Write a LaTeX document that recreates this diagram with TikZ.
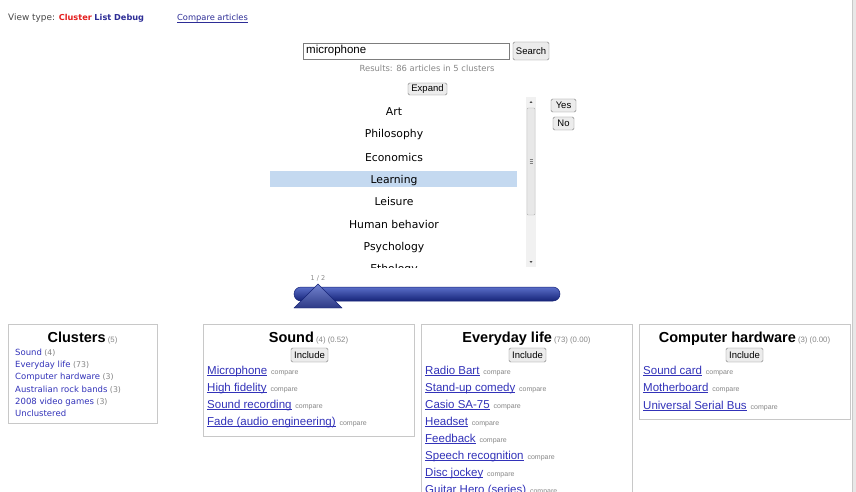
\documentclass[tikz,border=0pt]{standalone}
\usepackage{fontspec}
\setmainfont{Liberation Sans}
\newfontfamily\tah{DejaVu Sans}
\usetikzlibrary{shapes.geometric}

\definecolor{linkblue}{RGB}{50,50,185}
\definecolor{navblue}{RGB}{45,45,150}
\definecolor{hotred}{RGB}{228,30,30}
\definecolor{labelgray}{RGB}{70,70,70}
\definecolor{boxline}{RGB}{200,200,200}
\definecolor{btnline}{RGB}{125,125,125}
\definecolor{btnfill}{RGB}{236,236,236}
\definecolor{softgray}{RGB}{135,135,135}
\definecolor{selblue}{RGB}{196,217,240}
\definecolor{barlight}{RGB}{90,110,200}
\definecolor{bardark}{RGB}{22,36,120}
\definecolor{trackgray}{RGB}{232,232,232}

% underlined link text with the rule at a fixed depth
\newcommand{\lnk}[1]{\setbox0\hbox{#1}\rlap{\rule[-1.5pt]{\wd0}{0.6pt}}\box0}
\newcommand{\cmp}{{\fontsize{7}{8}\selectfont\color{softgray}\ \ compare}}
\newcommand{\cnt}[1]{{\fontsize{7.8}{8}\selectfont\mdseries\color{softgray}\ #1}}

\tikzset{
  uibutton/.style={draw=btnline, fill=btnfill, rounded corners=1.5pt, inner sep=0pt,
    font=\fontsize{9.5}{10}\selectfont},
  panel/.style={draw=boxline, line width=0.8pt},
  paneltitle/.style={anchor=base, inner sep=0pt, font=\bfseries\fontsize{14.5}{16}\selectfont},
  linkitem/.style={anchor=base west, inner sep=0pt, font=\fontsize{11.5}{13}\selectfont, text=linkblue},
  clitem/.style={anchor=base west, inner sep=0pt, font=\tah\fontsize{8.5}{10}\selectfont, text=linkblue},
  listitem/.style={anchor=base, inner sep=0pt, font=\tah\fontsize{10.8}{12}\selectfont, text=black},
  smallgray/.style={anchor=base, inner sep=0pt, font=\tah\fontsize{8.4}{10}\selectfont, text=softgray},
}

\begin{document}
\begin{tikzpicture}[x=1pt,y=-1pt]
\useasboundingbox (0,0) rectangle (856,492);
\clip (0,0) rectangle (856,492);
\fill[white] (0,0) rectangle (856,492);

% page scrollbar at the right edge
\fill[trackgray] (852,0) rectangle (856,492);
\draw[boxline] (852,0) -- (852,492);

% header line
\node[anchor=base west, inner sep=0pt, font=\tah\fontsize{8.9}{10}\selectfont] (viewtype) at (8,21)
  {\color{labelgray}View type: {\fontsize{8.2}{10}\selectfont\textbf{\color{hotred}Cluster} \textbf{\color{navblue}List Debug}}};
\node[anchor=base west, inner sep=0pt, font=\tah\fontsize{8.3}{10}\selectfont, text=navblue] (comparelink) at (177,21)
  {\lnk{Compare articles}};

% search field and button
\node[draw=btnline, fill=white, minimum width=206pt, minimum height=16pt, inner sep=0pt] (searchbox) at (406,51) {};
\node[anchor=west, inner sep=0pt, font=\fontsize{11.5}{13}\selectfont] (query) at (306,51) {microphone};
\node[uibutton, minimum width=36pt, minimum height=18pt] (searchbtn) at (531,51) {Search};
\node[smallgray] (results) at (427,72) {Results: 86 articles in 5 clusters};
\node[uibutton, minimum width=39pt, minimum height=12pt] (expandbtn) at (427.5,89) {Expand};

% topic list with selection and scrollbar
\begin{scope}
  \clip (270,97) rectangle (526,267);
  \fill[selblue] (270,171) rectangle (517,187);
  \node[listitem] (t1) at (394,116) {Art};
  \node[listitem] (t2) at (394,138) {Philosophy};
  \node[listitem] (t3) at (394,161) {Economics};
  \node[listitem] (t4) at (394,183) {Learning};
  \node[listitem] (t5) at (394,205) {Leisure};
  \node[listitem] (t6) at (394,228) {Human behavior};
  \node[listitem] (t7) at (394,250) {Psychology};
  \node[listitem] (t8) at (394,272) {Ethology};
\end{scope}
\fill[trackgray!60] (526,97) rectangle (536,267);
\draw[btnline!60, fill=trackgray, rounded corners=1pt] (527,108) rectangle (535,215);
\fill[black!70] (529.5,103) -- (532.5,103) -- (531,101) -- cycle;
\fill[black!70] (529.5,261) -- (532.5,261) -- (531,263) -- cycle;
\foreach \g in {159.5,161.5,163.5} \draw[black!50, line width=0.4pt] (529.5,\g) -- (532.5,\g);

\node[uibutton, minimum width=25pt, minimum height=13pt] (yesbtn) at (563.5,105.5) {Yes};
\node[uibutton, minimum width=21pt, minimum height=13pt] (nobtn) at (563.5,123.5) {No};

% page slider
\node[anchor=base, inner sep=0pt, font=\tah\fontsize{6.5}{8}\selectfont, text=softgray] (pagelbl) at (318,280) {1 / 2};
\shade[top color=barlight, bottom color=bardark, draw=bardark, rounded corners=7pt, line width=0.5pt]
  (294,287) rectangle (560,301);
\shade[top color=barlight!85, bottom color=bardark!90, draw=bardark, line width=0.4pt]
  (318,284) -- (342,308) -- (294,308) -- cycle;

% cluster index
\draw[panel] (8,324) rectangle (157,423);
\node[paneltitle] (cltitle) at (82.5,342) {Clusters\cnt{(5)}};
\node[clitem] (c1) at (15,355) {Sound\cnt{(4)}};
\node[clitem] (c2) at (15,367) {Everyday life\cnt{(73)}};
\node[clitem] (c3) at (15,379) {Computer hardware\cnt{(3)}};
\node[clitem] (c4) at (15,392) {Australian rock bands\cnt{(3)}};
\node[clitem] (c5) at (15,404) {2008 video games\cnt{(3)}};
\node[clitem] (c6) at (15,416) {Unclustered};

% cluster: Sound
\draw[panel] (203,324) rectangle (414,436);
\node[paneltitle] (sndtitle) at (308.5,342) {Sound\cnt{(4) (0.52)}};
\node[uibutton, minimum width=37pt, minimum height=14pt] (sndinc) at (309.5,355) {Include};
\node[linkitem] (s1) at (207,374) {\lnk{Microphone}\cmp};
\node[linkitem] (s2) at (207,391) {\lnk{High fidelity}\cmp};
\node[linkitem] (s3) at (207,408) {\lnk{Sound recording}\cmp};
\node[linkitem] (s4) at (207,425) {\lnk{Fade (audio engineering)}\cmp};

% cluster: Everyday life (runs on below the visible area)
\draw[panel] (421,493) -- (421,324) -- (632,324) -- (632,493);
\node[paneltitle] (evtitle) at (526.5,342) {Everyday life\cnt{(73) (0.00)}};
\node[uibutton, minimum width=37pt, minimum height=14pt] (evinc) at (527.5,355) {Include};
\node[linkitem] (e1) at (425,374) {\lnk{Radio Bart}\cmp};
\node[linkitem] (e2) at (425,391) {\lnk{Stand-up comedy}\cmp};
\node[linkitem] (e3) at (425,408) {\lnk{Casio SA-75}\cmp};
\node[linkitem] (e4) at (425,425) {\lnk{Headset}\cmp};
\node[linkitem] (e5) at (425,442) {\lnk{Feedback}\cmp};
\node[linkitem] (e6) at (425,459) {\lnk{Speech recognition}\cmp};
\node[linkitem] (e7) at (425,476) {\lnk{Disc jockey}\cmp};
\node[linkitem] (e8) at (425,493) {\lnk{Guitar Hero (series)}\cmp};

% cluster: Computer hardware
\draw[panel] (639,324) rectangle (850,419);
\node[paneltitle] (hwtitle) at (744.5,342) {Computer hardware\cnt{(3) (0.00)}};
\node[uibutton, minimum width=37pt, minimum height=14pt] (hwinc) at (744.5,355) {Include};
\node[linkitem] (h1) at (643,374) {\lnk{Sound card}\cmp};
\node[linkitem] (h2) at (643,391) {\lnk{Motherboard}\cmp};
\node[linkitem] (h3) at (643,409) {\lnk{Universal Serial Bus}\cmp};
\end{tikzpicture}
\end{document}
